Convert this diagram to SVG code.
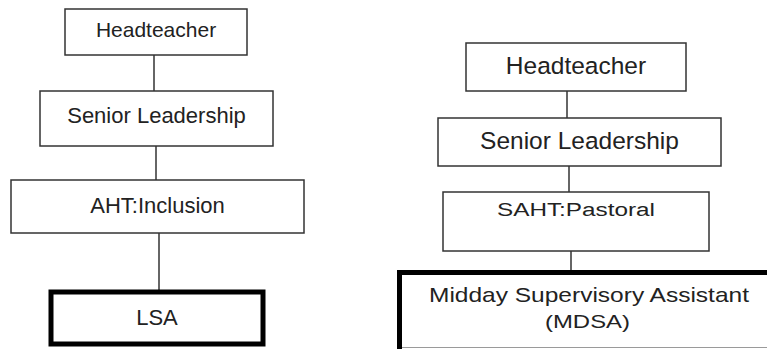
<svg xmlns="http://www.w3.org/2000/svg" width="767" height="349" viewBox="0 0 767 349">
<style>
  .box { fill: #ffffff; stroke: #333333; stroke-width: 1.5; }
  .thick { fill: #ffffff; stroke: #000000; stroke-width: 5; }
  .conn { stroke: #333333; stroke-width: 1.5; fill: none; }
  text { font-family: "Liberation Sans", Arial, sans-serif; fill: #222222; text-anchor: middle; }
</style>
<rect width="767" height="349" fill="#ffffff"/>
<g id="connectors">
  <line class="conn" x1="154" y1="55" x2="154" y2="91"/>
  <line class="conn" x1="156" y1="146" x2="156" y2="180"/>
  <line class="conn" x1="159" y1="233" x2="159" y2="290"/>
  <line class="conn" x1="567" y1="91" x2="567" y2="118"/>
  <line class="conn" x1="569" y1="166" x2="569" y2="192"/>
  <line class="conn" x1="571" y1="251" x2="571" y2="270"/>
</g>
<g id="left-headteacher">
  <rect class="box" x="65" y="9" width="182" height="46"/>
  <text x="156" y="37" font-size="21">Headteacher</text>
</g>
<g id="left-senior-leadership">
  <rect class="box" x="40" y="91" width="233" height="55"/>
  <text x="156.5" y="123" font-size="22">Senior Leadership</text>
</g>
<g id="left-aht-inclusion">
  <rect class="box" x="11" y="180" width="293" height="53"/>
  <text x="157.5" y="213" font-size="22">AHT:Inclusion</text>
</g>
<g id="left-lsa">
  <rect class="thick" x="51" y="292" width="212" height="52"/>
  <text x="157" y="325" font-size="22">LSA</text>
</g>
<g id="right-headteacher">
  <rect class="box" x="466" y="43" width="220" height="48"/>
  <text x="576" y="74" font-size="24.5">Headteacher</text>
</g>
<g id="right-senior-leadership">
  <rect class="box" x="438" y="118" width="283" height="48"/>
  <text x="579.5" y="149" font-size="24.5">Senior Leadership</text>
</g>
<g id="right-saht-pastoral">
  <rect class="box" x="443" y="192" width="266" height="59"/>
  <text x="576" y="215.7" font-size="18" textLength="158" lengthAdjust="spacingAndGlyphs">SAHT:Pastoral</text>
</g>
<g id="right-mdsa">
  <rect class="thick" x="399.5" y="272.5" width="420" height="120"/>
  <line x1="402" y1="347.5" x2="767" y2="347.5" stroke="#9a9a9a" stroke-width="1"/>
  <text x="589" y="301.7" font-size="21" textLength="320" lengthAdjust="spacingAndGlyphs">Midday Supervisory Assistant</text>
  <text x="587.5" y="328.3" font-size="19" textLength="85" lengthAdjust="spacingAndGlyphs">(MDSA)</text>
</g>
</svg>
